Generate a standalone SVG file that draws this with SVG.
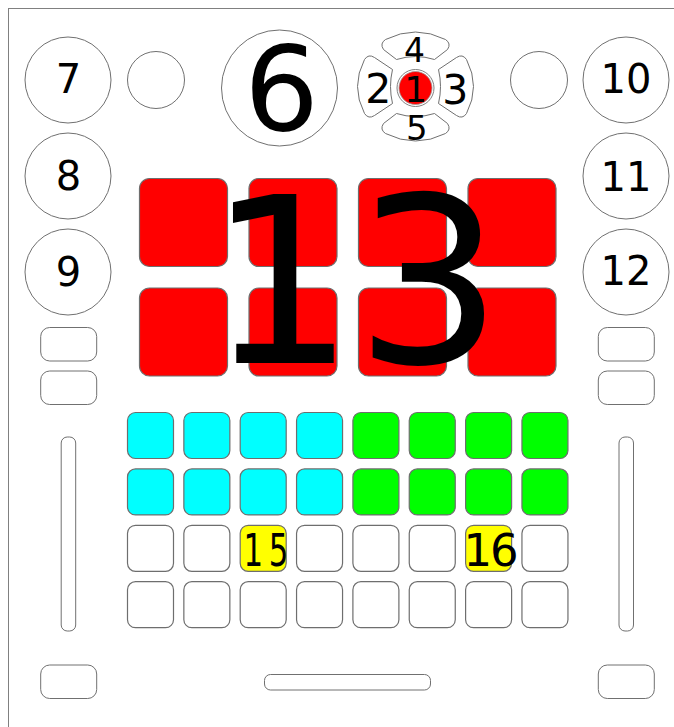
<svg xmlns="http://www.w3.org/2000/svg" width="674" height="727" viewBox="0 0 674 727">
<style>
.ln{fill:#fff;stroke:#707070;stroke-width:1}
.pad{stroke:#6e6e6e;stroke-width:1.2}
.w{fill:#fff}.c{fill:#00ffff}.g{fill:#00ff00}.y{fill:#ffff00}.r{fill:#ff0000}
.t{font-family:"DejaVu Sans",sans-serif;fill:#000}
.m{text-anchor:middle}
</style>
<g id="frame"><rect x="8.5" y="8.5" width="700" height="760" fill="#fff" stroke="#808080" stroke-width="1"/></g>
<g id="connectors"></g>
<g id="knob7"><circle class="ln" cx="68" cy="80" r="43"/><text class="t m" x="68.5" y="93" font-size="40">7</text></g>
<g id="knob8"><circle class="ln" cx="68" cy="176" r="43"/><text class="t m" x="68.5" y="190" font-size="40">8</text></g>
<g id="knob9"><circle class="ln" cx="68" cy="272" r="43"/><text class="t m" x="68.5" y="286" font-size="40">9</text></g>
<g id="knob10"><circle class="ln" cx="626" cy="80" r="43"/><text class="t m" x="626" y="93" font-size="40">10</text></g>
<g id="knob11"><circle class="ln" cx="626" cy="176" r="43"/><text class="t m" x="626" y="191" font-size="40">11</text></g>
<g id="knob12"><circle class="ln" cx="626" cy="272" r="43"/><text class="t m" x="626" y="285" font-size="40">12</text></g>
<g id="small-left"><circle class="ln" cx="156" cy="80" r="28.5"/></g>
<g id="small-right"><circle class="ln" cx="539" cy="80" r="28.5"/></g>
<g id="jog6"><circle class="ln" cx="279.5" cy="88" r="58"/><text class="t m" x="281.5" y="130" font-size="118">6</text></g>
<g id="dpad" transform="translate(415.5,86.5)">
<g id="dpad4"><path class="ln" d="M -30,-47 Q 0,-62 30,-47 Q 36,-43 32,-37 L 19,-27 Q 0,-33 -19,-27 L -32,-37 Q -36,-43 -30,-47 Z"/><text class="t m" x="-1" y="-25" font-size="33">4</text></g>
<g id="dpad5"><path class="ln" d="M -30,47 Q 0,62 30,47 Q 36,43 32,37 L 19,27 Q 0,33 -19,27 L -32,37 Q -36,43 -30,47 Z"/><text class="t m" x="1.2" y="53" font-size="34">5</text></g>
<g id="dpad2"><path class="ln" d="M -51,-27 Q -65,0 -51,27 Q -47,33 -41,29 L -23,17 Q -27,0 -23,-17 L -41,-29 Q -47,-33 -51,-27 Z"/><text class="t m" x="-37.2" y="16.8" font-size="41">2</text></g>
<g id="dpad3"><path class="ln" d="M 51,-27 Q 65,0 51,27 Q 47,33 41,29 L 23,17 Q 27,0 23,-17 L 41,-29 Q 47,-33 51,-27 Z"/><text class="t m" x="39.8" y="17.5" font-size="41">3</text></g>
<g id="dpad1"><circle cx="0" cy="1.5" r="18.5" fill="#fff" stroke="#808080" stroke-width="1"/><circle cx="0" cy="1.5" r="16.5" fill="#ff0000" stroke="#999" stroke-width="0.8"/><text class="t m" x="0.3" y="15.2" font-size="36">1</text></g>
</g>
<g id="pads13">
<rect class="pad r" x="139.5" y="178.5" width="88" height="88" rx="10"/>
<rect class="pad r" x="249" y="178.5" width="88" height="88" rx="10"/>
<rect class="pad r" x="358.5" y="178.5" width="88" height="88" rx="10"/>
<rect class="pad r" x="468" y="178.5" width="88" height="88" rx="10"/>
<rect class="pad r" x="139.5" y="288" width="88" height="88" rx="10"/>
<rect class="pad r" x="249" y="288" width="88" height="88" rx="10"/>
<rect class="pad r" x="358.5" y="288" width="88" height="88" rx="10"/>
<rect class="pad r" x="468" y="288" width="88" height="88" rx="10"/>
<text class="t m" x="355" y="363" font-size="232">13</text>
</g>
<g id="grid">
<rect class="pad c" x="127.5" y="412.5" width="46" height="46" rx="8"/>
<rect class="pad c" x="183.85" y="412.5" width="46" height="46" rx="8"/>
<rect class="pad c" x="240.2" y="412.5" width="46" height="46" rx="8"/>
<rect class="pad c" x="296.55" y="412.5" width="46" height="46" rx="8"/>
<rect class="pad g" x="352.9" y="412.5" width="46" height="46" rx="8"/>
<rect class="pad g" x="409.25" y="412.5" width="46" height="46" rx="8"/>
<rect class="pad g" x="465.6" y="412.5" width="46" height="46" rx="8"/>
<rect class="pad g" x="521.95" y="412.5" width="46" height="46" rx="8"/>
<rect class="pad c" x="127.5" y="468.9" width="46" height="46" rx="8"/>
<rect class="pad c" x="183.85" y="468.9" width="46" height="46" rx="8"/>
<rect class="pad c" x="240.2" y="468.9" width="46" height="46" rx="8"/>
<rect class="pad c" x="296.55" y="468.9" width="46" height="46" rx="8"/>
<rect class="pad g" x="352.9" y="468.9" width="46" height="46" rx="8"/>
<rect class="pad g" x="409.25" y="468.9" width="46" height="46" rx="8"/>
<rect class="pad g" x="465.6" y="468.9" width="46" height="46" rx="8"/>
<rect class="pad g" x="521.95" y="468.9" width="46" height="46" rx="8"/>
<rect class="pad w" x="127.5" y="525.3" width="46" height="46" rx="8"/>
<rect class="pad w" x="183.85" y="525.3" width="46" height="46" rx="8"/>
<rect class="pad y" x="240.2" y="525.3" width="46" height="46" rx="8"/>
<rect class="pad w" x="296.55" y="525.3" width="46" height="46" rx="8"/>
<rect class="pad w" x="352.9" y="525.3" width="46" height="46" rx="8"/>
<rect class="pad w" x="409.25" y="525.3" width="46" height="46" rx="8"/>
<rect class="pad y" x="465.6" y="525.3" width="46" height="46" rx="8"/>
<rect class="pad w" x="521.95" y="525.3" width="46" height="46" rx="8"/>
<rect class="pad w" x="127.5" y="581.7" width="46" height="46" rx="8"/>
<rect class="pad w" x="183.85" y="581.7" width="46" height="46" rx="8"/>
<rect class="pad w" x="240.2" y="581.7" width="46" height="46" rx="8"/>
<rect class="pad w" x="296.55" y="581.7" width="46" height="46" rx="8"/>
<rect class="pad w" x="352.9" y="581.7" width="46" height="46" rx="8"/>
<rect class="pad w" x="409.25" y="581.7" width="46" height="46" rx="8"/>
<rect class="pad w" x="465.6" y="581.7" width="46" height="46" rx="8"/>
<rect class="pad w" x="521.95" y="581.7" width="46" height="46" rx="8"/>
</g>
<g id="label15"><text class="t" transform="translate(243.4,566) scale(0.686,1)" font-size="45"><tspan x="0">1</tspan><tspan x="37">5</tspan></text></g>
<g id="label16"><text class="t" x="463.5" y="566" font-size="45"><tspan x="463.5">1</tspan><tspan x="490">6</tspan></text></g>
<g id="buttons-left">
<rect class="ln" x="40.7" y="327.5" width="56" height="33.5" rx="9"/>
<rect class="ln" x="40.7" y="371" width="56" height="33.5" rx="9"/>
<rect class="ln" x="40.7" y="665" width="56" height="33.5" rx="9"/>
</g>
<g id="buttons-right">
<rect class="ln" x="598.3" y="327.5" width="56" height="33.5" rx="9"/>
<rect class="ln" x="598.3" y="371" width="56" height="33.5" rx="9"/>
<rect class="ln" x="598.3" y="665" width="56" height="33.5" rx="9"/>
</g>
<g id="slider-left"><rect class="ln" x="61.2" y="437" width="14.5" height="194" rx="6"/></g>
<g id="slider-right"><rect class="ln" x="619" y="437" width="14.5" height="194" rx="6"/></g>
<g id="crossfader"><rect class="ln" x="264.5" y="674.5" width="166" height="15.5" rx="6"/></g>
</svg>
